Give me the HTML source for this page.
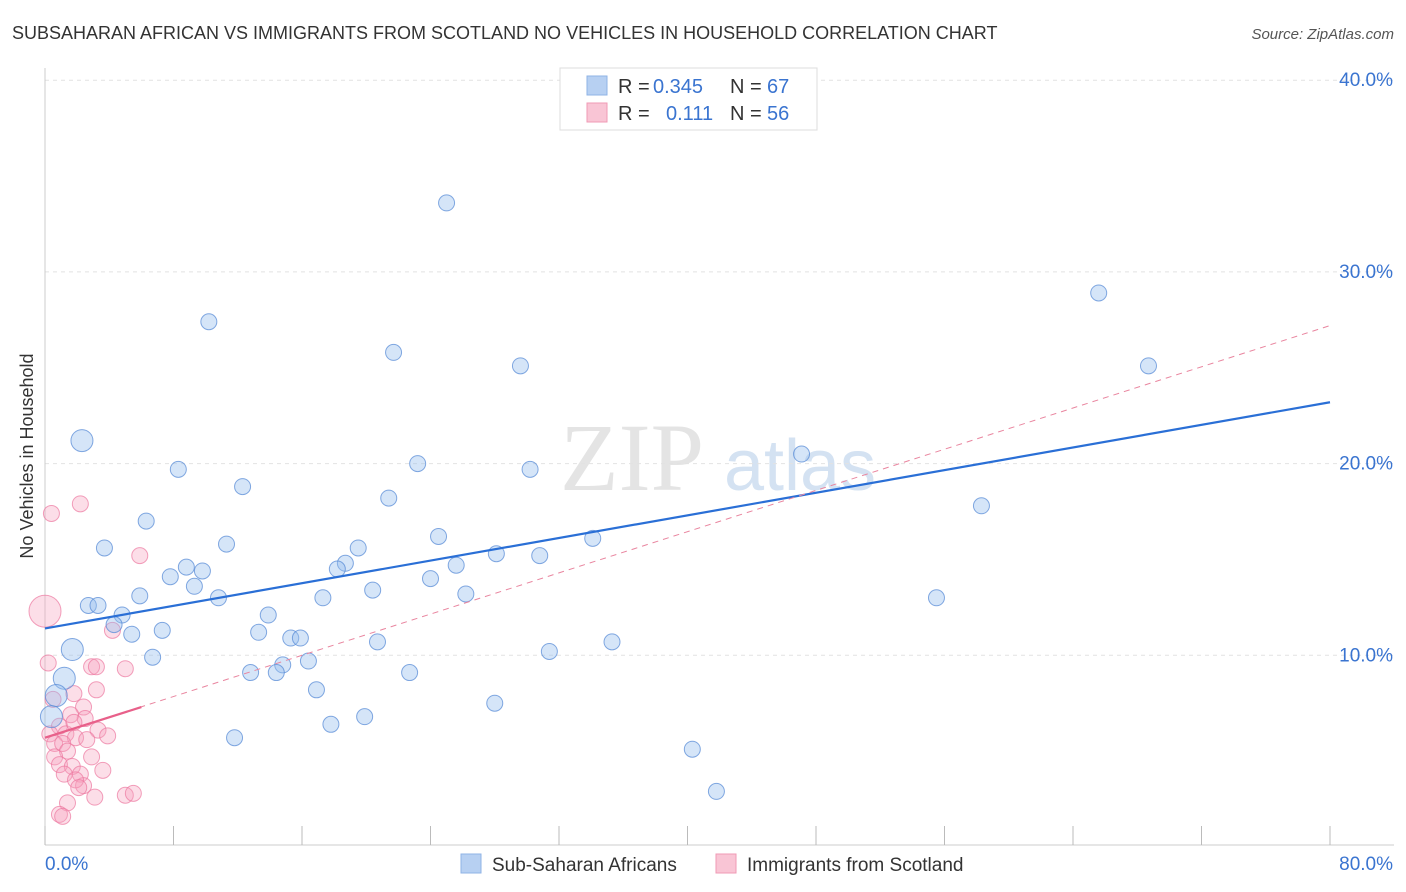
<!DOCTYPE html>
<html><head><meta charset="utf-8"><style>
body{margin:0;background:#fff;font-family:"Liberation Sans",sans-serif;}
svg{display:block}
</style></head><body>
<svg id="chart" width="1406" height="892">
<text x="12" y="39" font-size="18" fill="#333">SUBSAHARAN AFRICAN VS IMMIGRANTS FROM SCOTLAND NO VEHICLES IN HOUSEHOLD CORRELATION CHART</text>
<text x="1394" y="39" font-size="15" fill="#555" font-style="italic" text-anchor="end">Source: ZipAtlas.com</text>
<text x="33" y="456" font-size="18" fill="#333" text-anchor="middle" transform="rotate(-90 33 456)">No Vehicles in Household</text>
<g><text x="632" y="490" font-size="96" fill="#e4e4e4" font-family="Liberation Serif,serif" text-anchor="middle">ZIP</text><text x="800" y="490" font-size="72" fill="#d4e2f2" text-anchor="middle">atlas</text></g>
<g id="grid"></g><g id="axes"></g><g id="pts"></g><g id="lines"></g>
<g>
<rect x="560" y="68" width="257" height="62" fill="#fff" stroke="#ddd"/>
<rect x="587" y="76" width="20" height="19" fill="#b7d0f2" stroke="#8fb3e6"/>
<rect x="587" y="103" width="20" height="19" fill="#f9c5d5" stroke="#f09ab5"/>
<text x="618" y="93" font-size="20" fill="#333">R =</text><text x="653" y="93" font-size="20" fill="#3a74d0">0.345</text>
<text x="730" y="93" font-size="20" fill="#333">N =</text><text x="767" y="93" font-size="20" fill="#3a74d0">67</text>
<text x="618" y="120" font-size="20" fill="#333">R =</text><text x="666" y="120" font-size="20" fill="#3a74d0">0.111</text>
<text x="730" y="120" font-size="20" fill="#333">N =</text><text x="767" y="120" font-size="20" fill="#3a74d0">56</text>
</g>
<g>
<rect x="461" y="854" width="20" height="19" fill="#b7d0f2" stroke="#8fb3e6"/>
<text x="492" y="871" font-size="19" fill="#333">Sub-Saharan Africans</text>
<rect x="716" y="854" width="20" height="19" fill="#f9c5d5" stroke="#f09ab5"/>
<text x="747" y="871" font-size="19" fill="#333">Immigrants from Scotland</text>
</g>
</svg>
<script>
const yTicks=[10,20,30,40];
const xTickLabels=["0.0%","80.0%"];
const blueX=[40.6,25.0,10.2,65.6,21.7,29.6,68.7,2.3,8.3,23.2,30.2,47.1,12.3,21.4,58.3,6.3,3.7,11.3,24.5,34.1,19.5,28.1,30.8,18.7,18.2,25.6,8.8,9.8,7.8,24.0,9.3,20.4,26.2,5.9,10.8,17.3,55.5,2.7,3.3,4.8,13.9,4.3,5.4,7.3,13.3,15.3,15.9,20.7,35.3,1.7,31.4,6.7,14.8,16.4,12.8,14.4,22.7,1.2,16.9,0.7,28.0,0.4,19.9,17.8,11.8,40.3,41.8];
const blueY=[38.1,33.6,27.4,28.9,25.8,25.1,25.1,21.2,19.7,20.0,19.7,20.5,18.8,18.2,17.8,17.0,15.6,15.8,16.2,16.1,15.6,15.3,15.2,14.8,14.5,14.7,14.6,14.4,14.1,14.0,13.6,13.4,13.2,13.1,13.0,13.0,13.0,12.6,12.6,12.1,12.1,11.6,11.1,11.3,11.2,10.9,10.9,10.7,10.7,10.3,10.2,9.9,9.5,9.7,9.1,9.1,9.1,8.8,8.2,7.9,7.5,6.8,6.8,6.4,5.7,5.1,2.9];
const blueBig=[7,49,57,59,61];
const pinkX=[0,0.4,2.2,5.9,4.2,0.2,2.9,3.2,5.0,3.2,1.8,2.4,0.5,2.5,1.6,3.3,0.9,1.3,1.9,0.3,0.6,2.6,1.1,1.4,2.9,0.6,0.9,1.7,2.2,3.6,1.2,2.4,1.9,2.1,3.1,5.0,5.5,1.4,0.9,1.1,3.9,1.8];
const pinkY=[12.3,17.4,17.9,15.2,11.3,9.6,9.4,9.4,9.3,8.2,8.0,7.3,7.7,6.7,6.9,6.1,6.3,5.9,5.7,5.9,5.4,5.6,5.4,5.0,4.7,4.7,4.3,4.2,3.8,4.0,3.8,3.2,3.5,3.1,2.6,2.7,2.8,2.3,1.7,1.6,5.8,6.5];
const blueTrend=[11.4,23.2];
const pinkTrend=[5.7,7.3,27.2];
const NS="http://www.w3.org/2000/svg";
const sx=v=>45+v*1285/80, sy=v=>847-v*19.17;
function mk(tag,attrs,parent){const e=document.createElementNS(NS,tag);for(const k in attrs)e.setAttribute(k,attrs[k]);document.getElementById(parent).appendChild(e);return e;}
yTicks.forEach(t=>{
 const l=mk('line',{x1:45,x2:1394,y1:sy(t),y2:sy(t),stroke:'#e2e2e2','stroke-dasharray':'4 4'},'grid');
 
 
 const tx=mk('text',{x:1393,y:sy(t)-10+16,'font-size':19,fill:'#3a74d0','text-anchor':'end'},'grid');
 tx.textContent=t.toFixed(1)+'%';
 
 
});
const ax=mk('line',{x1:45,x2:1394,y1:845,y2:845,stroke:'#ccc'},'axes');


const ay=mk('line',{x1:45,x2:45,y1:68,y2:845,stroke:'#ccc'},'axes');


for(let i=0;i<=10;i++){const tk=mk('line',{x1:sx(i*8),x2:sx(i*8),y1:826,y2:845,stroke:'#bbb'},'axes');
 
 }
const xl0=mk('text',{x:45,y:870,'font-size':19,fill:'#3a74d0'},'axes');xl0.textContent=xTickLabels[0];


const xl1=mk('text',{x:1393,y:870,'font-size':19,fill:'#3a74d0','text-anchor':'end'},'axes');xl1.textContent=xTickLabels[1];


pinkX.forEach((x,i)=>{const c=mk('circle',{cx:sx(x),cy:sy(pinkY[i]),r:i==0?16:8,fill:'rgba(246,160,190,0.35)',stroke:'rgba(236,120,160,0.7)'},'pts');
 
 });
blueX.forEach((x,i)=>{const c=mk('circle',{cx:sx(x),cy:sy(blueY[i]),r:blueBig.includes(i)?11:8,fill:'rgba(150,190,238,0.4)',stroke:'rgba(90,140,215,0.75)'},'pts');
 
 });
const bl=mk('line',{x1:sx(0),y1:sy(blueTrend[0]),x2:sx(80),y2:sy(blueTrend[1]),stroke:'#2a6fd6','stroke-width':2.2},'lines');


const pd=mk('line',{x1:sx(0),y1:sy(pinkTrend[0]),x2:sx(80),y2:sy(pinkTrend[2]),stroke:'#e9859f','stroke-width':1,'stroke-dasharray':'6 5'},'lines');


const ps=mk('line',{x1:sx(0),y1:sy(pinkTrend[0]),x2:sx(6),y2:sy(pinkTrend[1]),stroke:'#e8608a','stroke-width':2.2},'lines');


</script>
</body></html>
